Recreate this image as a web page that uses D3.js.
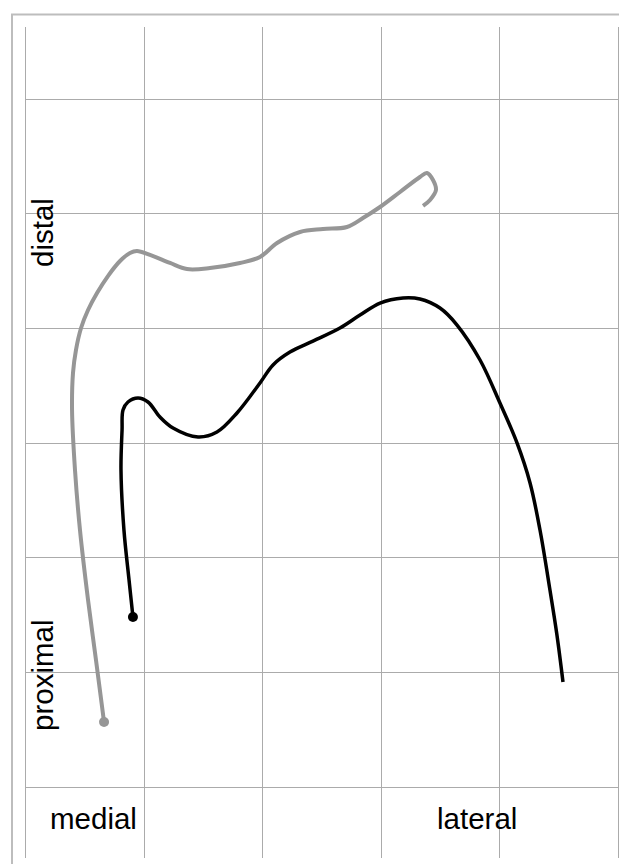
<!DOCTYPE html>
<html>
<head>
<meta charset="utf-8">
<script src="https://cdn.jsdelivr.net/npm/d3@7"></script>
<style>
  html, body { margin: 0; padding: 0; background: #fff; }
  svg { display: block; }
  text { font-family: "Liberation Sans", Arial, sans-serif; fill: #000; }
</style>
</head>
<body>
<div id="chart"></div>
<script>
// Grid values (in grid units)
const xGrid = [0, 1, 2, 3, 4, 5];
const yGrid = [0, 1, 2, 3, 4, 5, 6];

// Medial/lateral x, proximal/distal y for the gray trace
const grayX = [0.667, 0.599, 0.532, 0.464, 0.422, 0.397, 0.405, 0.430, 0.473, 0.532, 0.608, 0.700, 0.802, 0.886, 0.945, 1.055, 1.224, 1.367, 1.561, 1.814, 1.983, 2.127, 2.321, 2.515, 2.717, 2.852, 2.996, 3.165, 3.333, 3.392, 3.443, 3.468, 3.418, 3.359];
const grayY = [0.564, 1.105, 1.628, 2.238, 2.761, 3.284, 3.607, 3.807, 3.999, 4.156, 4.304, 4.452, 4.583, 4.653, 4.670, 4.636, 4.566, 4.513, 4.522, 4.566, 4.618, 4.740, 4.836, 4.862, 4.880, 4.958, 5.054, 5.185, 5.316, 5.350, 5.289, 5.202, 5.115, 5.063];

// Black trace
const blackX = [0.911, 0.878, 0.835, 0.810, 0.819, 0.827, 0.869, 0.954, 1.038, 1.139, 1.249, 1.460, 1.620, 1.789, 1.983, 2.093, 2.236, 2.430, 2.658, 2.827, 2.996, 3.190, 3.333, 3.502, 3.646, 3.840, 4.008, 4.152, 4.262, 4.346, 4.430, 4.489, 4.540];
const blackY = [1.480, 1.802, 2.238, 2.761, 3.110, 3.284, 3.354, 3.389, 3.354, 3.223, 3.127, 3.049, 3.092, 3.258, 3.520, 3.677, 3.789, 3.885, 3.999, 4.112, 4.217, 4.261, 4.252, 4.173, 4.025, 3.720, 3.345, 2.997, 2.648, 2.238, 1.715, 1.323, 0.913];

const W = 619, H = 864;
const svg = d3.select("#chart").append("svg").attr("width", W).attr("height", H);

const x = d3.scaleLinear().domain([0, 5]).range([25, 617.5]);
const y = d3.scaleLinear().domain([0, 6]).range([786.7, 98.5]);

// Frame (top and left border)
svg.append("line").attr("x1", 11).attr("x2", W).attr("y1", 14.5).attr("y2", 14.5)
  .attr("stroke", "#bdbdbd").attr("stroke-width", 2);
svg.append("line").attr("x1", 12).attr("x2", 12).attr("y1", 14).attr("y2", H)
  .attr("stroke", "#bdbdbd").attr("stroke-width", 2);

// Grid
const grid = svg.append("g").attr("stroke", "#ababab").attr("stroke-width", 1);
grid.selectAll("line.v").data(xGrid).join("line").attr("class", "v")
  .attr("x1", d => Math.round(x(d)) + 0.5).attr("x2", d => Math.round(x(d)) + 0.5)
  .attr("y1", 27).attr("y2", 858);
grid.selectAll("line.h").data(yGrid).join("line").attr("class", "h")
  .attr("x1", x(0)).attr("x2", W)
  .attr("y1", d => Math.round(y(d)) + 0.5).attr("y2", d => Math.round(y(d)) + 0.5);

// Labels
const fs = 29.5;
svg.append("text").attr("x", 50).attr("y", 829).attr("font-size", fs).text("medial");
svg.append("text").attr("x", 437).attr("y", 829).attr("font-size", fs).text("lateral");
svg.append("text").attr("transform", "translate(53,267) rotate(-90)").attr("font-size", fs).text("distal");
svg.append("text").attr("transform", "translate(53,731) rotate(-90)").attr("font-size", fs).text("proximal");

const line = d3.line().x(d => x(d[0])).y(d => y(d[1])).curve(d3.curveCatmullRom.alpha(0.5));

const grayPts = grayX.map((v, i) => [v, grayY[i]]);
const blackPts = blackX.map((v, i) => [v, blackY[i]]);

svg.append("path").datum(grayPts).attr("d", line)
  .attr("fill", "none").attr("stroke", "#969696").attr("stroke-width", 4)
  .attr("stroke-linecap", "butt").attr("stroke-linejoin", "round");
svg.append("circle").attr("cx", x(grayPts[0][0])).attr("cy", y(grayPts[0][1])).attr("r", 5).attr("fill", "#969696");

svg.append("path").datum(blackPts).attr("d", line)
  .attr("fill", "none").attr("stroke", "#000").attr("stroke-width", 3.5)
  .attr("stroke-linecap", "butt").attr("stroke-linejoin", "round");
svg.append("circle").attr("cx", x(blackPts[0][0])).attr("cy", y(blackPts[0][1])).attr("r", 5).attr("fill", "#000");
</script>
</body>
</html>
